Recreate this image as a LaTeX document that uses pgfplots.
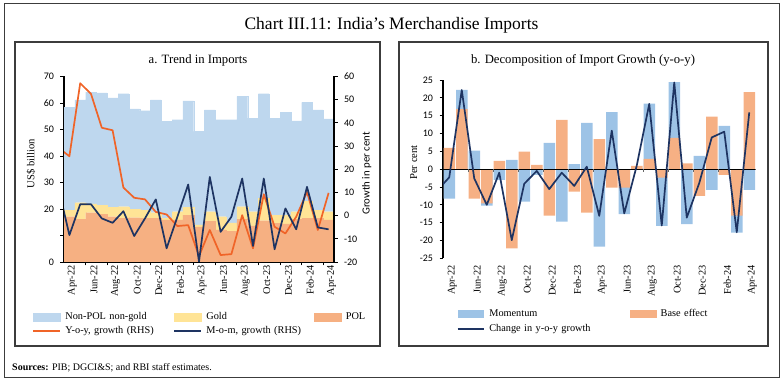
\documentclass[border=0pt]{standalone}
\usepackage{fontspec}
\setmainfont{Liberation Serif}
\newfontfamily\calfont{Carlito}
\usepackage{pgfplots}
\pgfplotsset{compat=1.18}
\definecolor{nonpol}{RGB}{190,215,238}
\definecolor{goldc}{RGB}{255,228,150}
\definecolor{polc}{RGB}{246,176,130}
\definecolor{yoyc}{RGB}{240,100,40}
\definecolor{navyc}{RGB}{30,52,98}
\definecolor{momc}{RGB}{157,195,230}
\definecolor{basec}{RGB}{246,176,132}
\definecolor{framec}{RGB}{60,60,60}
\pgfplotsset{
  common/.style={
    scale only axis, xmin=-0.5, xmax=24.5,
    /pgf/number format/assume math mode=true,
    yticklabel style={font=\calfont\fontsize{10}{12}\selectfont},
    tick align=outside, major tick length=3.5pt,
    tick style={black, line width=0.9pt},
    axis line style={black, line width=1.4pt},
  },
}
\begin{document}
\begin{tikzpicture}
\useasboundingbox (0pt,0pt) rectangle (783pt,382pt);
\draw[framec, line width=1pt] (4pt,4pt) rectangle (779pt,378pt);
\node[anchor=base, font=\fontsize{17.5}{20}\selectfont] at (391.5pt,352.7pt) {Chart III.11: India's Merchandise Imports};
\draw[framec, line width=1.2pt] (15pt,36pt) rectangle (380pt,340pt);
\draw[framec, line width=1.2pt] (399pt,36pt) rectangle (768pt,340pt);
\node[anchor=base, font=\fontsize{12.7}{15}\selectfont] at (198pt,318pt) {a. Trend in Imports};
\node[anchor=base, font=\fontsize{12.7}{15}\selectfont] at (583pt,318pt) {b. Decomposition of Import Growth (y-o-y)};
\node[anchor=base west, inner sep=0pt, font=\fontsize{10}{12}\selectfont] at (12pt,11.3pt) {\textbf{Sources:} PIB; DGCI\&S; and RBI staff estimates.};

% ---------- Panel a: bars ----------
\begin{axis}[common,
  at={(64pt,120pt)}, anchor=south west, width=270pt, height=185.5pt,
  ymin=0, ymax=70, ytick={0,10,...,70}, yticklabels={0,,20,30,40,50,60,70},
  yticklabel style={xshift=-3pt},
  axis x line*=bottom, axis y line*=left,
  ybar stacked, bar width=1,
  xtick={1.5,3.5,...,23.5}, xticklabels={},
  extra x ticks={0,2,...,24},
  extra x tick labels={Apr-22,Jun-22,Aug-22,Oct-22,Dec-22,Feb-23,Apr-23,Jun-23,Aug-23,Oct-23,Dec-23,Feb-24,Apr-24},
  extra x tick style={major tick length=0pt},
  xticklabel style={rotate=90, anchor=east, font=\fontsize{10.3}{12}\selectfont, yshift=-3pt},
  ylabel={US\$ billion},
  ylabel style={at={(axis description cs:-0.122,0.529)}, anchor=center, font=\fontsize{10.6}{12}\selectfont},
]
\addplot[fill=polc, draw=polc, line width=0.2pt] coordinates {(0,17.1)(1,16.2)(2,18.6)(3,18.1)(4,17.1)(5,16.5)(6,16.7)(7,16.5)(8,16.5)(9,15.9)(10,15.9)(11,17.7)(12,13.3)(13,15.3)(14,12.1)(15,11.5)(16,16.1)(17,13.6)(18,15.6)(19,14.6)(20,14.4)(21,16.1)(22,16.5)(23,16.5)(24,15.9)};
\addplot[fill=goldc, draw=goldc, line width=0.2pt] coordinates {(0,2.5)(1,6.2)(2,3.3)(3,3.4)(4,3.6)(5,4.4)(6,3.2)(7,3.1)(8,2.1)(9,0.6)(10,3.1)(11,3.0)(12,0.7)(13,3.7)(14,5.0)(15,3.3)(16,4.8)(17,5.4)(18,8.4)(19,3.1)(20,3.3)(21,2.9)(22,6.3)(23,2.9)(24,3.1)};
\addplot[fill=nonpol, draw=nonpol, line width=0.2pt] coordinates {(0,38.7)(1,38.8)(2,42.2)(3,42.3)(4,41.2)(5,42.6)(6,37.9)(7,37.5)(8,42.6)(9,36.5)(10,34.7)(11,40.1)(12,35.3)(13,38.4)(14,36.6)(15,38.9)(16,41.6)(17,35.3)(18,39.5)(19,36.6)(20,38.7)(21,34.3)(22,37.4)(23,38.0)(24,35.0)};
\draw[white, line width=0.9pt] (axis cs:14.5,0) -- (axis cs:14.5,53.7);
\end{axis}

% ---------- Panel a: lines (RHS) ----------
\begin{axis}[common,
  at={(64pt,120pt)}, anchor=south west, width=270pt, height=185.5pt,
  ymin=-20, ymax=60, ytick={-20,-10,...,60},
  yticklabel style={xshift=3pt},
  axis y line*=right, axis x line=none,
  ylabel={Growth in per cent},
  ylabel style={at={(axis description cs:1.121,0.478)}, anchor=center, font=\calfont\fontsize{10.8}{13}\selectfont},
  legend columns=3, legend cell align=left,
  legend style={at={(axis description cs:-0.1185,-0.2625)}, anchor=north west, draw=none, fill=none, inner sep=0pt, row sep=2.5pt,
    font=\fontsize{10.3}{12}\selectfont,
    nodes={text width=105.8pt, inner xsep=2pt, inner ysep=1.5pt, text height=7pt, text depth=2pt, align=left},
    /tikz/every odd column/.append style={column sep=2.5pt}},
]
\addlegendimage{legend image code/.code={\fill[nonpol] (0pt,-4pt) rectangle (26.7pt,4pt);}}
\addlegendentry{Non-POL non-gold}
\addlegendimage{legend image code/.code={\fill[goldc] (0pt,-4pt) rectangle (26.7pt,4pt);}}
\addlegendentry{Gold}
\addlegendimage{legend image code/.code={\fill[polc] (0pt,-4pt) rectangle (26.7pt,4pt);}}
\addlegendentry{POL}
\addplot[yoyc, line width=1.7pt, line join=round, mark=none,
  legend image code/.code={\draw[yoyc, line width=2pt] (0pt,0pt) -- (26.7pt,0pt);}]
  coordinates {(-1,29.2)(0,25.6)(1,57.1)(2,52.5)(3,37.9)(4,36.8)(5,12.1)(6,7.7)(7,7.0)(8,1.6)(9,0.5)(10,-4.5)(11,-4.1)(12,-17.5)(13,-6.2)(14,-17.0)(15,-16.6)(16,0.2)(17,-14.1)(18,9.2)(19,-4.8)(20,-7.7)(21,-0.5)(22,10.2)(23,-6.2)(24,9.8)};
\addlegendentry{Y-o-y, growth (RHS)}
\addplot[navyc, line width=1.7pt, line join=round, mark=none,
  legend image code/.code={\draw[navyc, line width=2pt] (0pt,0pt) -- (26.7pt,0pt);}]
  coordinates {(-1,11.6)(0,-8.4)(1,4.9)(2,4.9)(3,-1.2)(4,-3.1)(5,1.9)(6,-8.8)(7,-1.2)(8,7.0)(9,-14.1)(10,-0.5)(11,13.4)(12,-19.9)(13,16.7)(14,-7.0)(15,-0.5)(16,16.0)(17,-13.1)(18,16.0)(19,-14.5)(20,3.1)(21,-5.9)(22,12.4)(23,-5.1)(24,-5.9)};
\addlegendentry{M-o-m, growth (RHS)}
\end{axis}

% ---------- Panel b ----------
\begin{axis}[common,
  at={(443pt,123.7pt)}, anchor=south west, width=312.5pt, height=178.3pt,
  ymin=-25, ymax=25, ytick={-25,-20,...,25},
  yticklabel style={xshift=-3pt},
  axis y line*=left, axis x line*=bottom, x axis line style={draw=none},
  xtick={0,2,...,24},
  xticklabels={Apr-22,Jun-22,Aug-22,Oct-22,Dec-22,Feb-23,Apr-23,Jun-23,Aug-23,Oct-23,Dec-23,Feb-24,Apr-24},
  xtick style={draw=none},
  xticklabel style={rotate=90, anchor=east, font=\fontsize{10.3}{12}\selectfont, yshift=-3pt},
  ylabel={Per cent},
  ylabel style={at={(axis description cs:-0.094,0.537)}, anchor=center, font=\fontsize{10.6}{12}\selectfont},
  ybar, bar width=0.92,
  legend columns=2, legend cell align=left,
  legend style={at={(axis description cs:0.043,-0.2804)}, anchor=north west, draw=none, fill=none, inner sep=0pt, row sep=2.5pt,
    font=\fontsize{10.3}{12}\selectfont,
    nodes={text width=138.7pt, inner xsep=2pt, inner ysep=1.5pt, text height=7pt, text depth=2pt, align=left},
    /tikz/every odd column/.append style={column sep=2pt}},
]
\addplot[fill=momc, draw=none, bar shift=0pt,
  legend image code/.code={\fill[momc] (0pt,-4pt) rectangle (26.7pt,4pt);}]
  coordinates {(0,-8.3)(1,22.2)(2,5.2)(3,-10.2)(4,-3.0)(5,2.6)(6,-9.1)(7,-1.6)(8,7.4)(9,-14.7)(10,1.4)(11,13.0)(12,-21.7)(13,16.0)(14,-12.6)(15,0.3)(16,18.4)(17,-15.9)(18,24.4)(19,-15.4)(20,3.7)(21,-5.8)(22,12.1)(23,-17.8)(24,-5.8)};
\addlegendentry{Momentum}
\addplot[fill=basec, draw=none, bar shift=0pt,
  legend image code/.code={\fill[basec] (0pt,-4pt) rectangle (26.7pt,4pt);}]
  coordinates {(0,6.0)(1,16.8)(2,-8.3)(3,-9.6)(4,2.3)(5,-22.2)(6,4.9)(7,1.2)(8,-13.0)(9,13.8)(10,-6.3)(11,-12.2)(12,8.4)(13,-5.2)(14,-5.2)(15,0.9)(16,2.9)(17,-2.4)(18,8.8)(19,1.6)(20,-7.5)(21,14.7)(22,-1.6)(23,-13.0)(24,21.6)};
\addlegendentry{Base effect}
\draw[black, line width=1pt] (axis cs:-0.5,0) -- (axis cs:24.5,0);
\pgfplotsinvokeforeach{1.5,3.5,...,23.5}{\draw[black!60, line width=0.6pt] (axis cs:#1,0) -- ([yshift=-2.5pt]axis cs:#1,0);}
\addplot[sharp plot, navyc, line width=1.7pt, line join=round, mark=none,
  legend image code/.code={\draw[navyc, line width=2pt] (0pt,0pt) -- (26.7pt,0pt);}]
  coordinates {(-1,-6.1)(0,-2.3)(1,22.2)(2,-2.6)(3,-10.0)(4,-1.0)(5,-19.9)(6,-4.1)(7,-0.5)(8,-5.6)(9,-1.0)(10,-4.7)(11,0.7)(12,-13.1)(13,10.8)(14,-12.4)(15,1.0)(16,18.3)(17,-15.8)(18,24.3)(19,-13.6)(20,-3.9)(21,8.9)(22,10.5)(23,-17.7)(24,15.9)};
\addlegendentry{Change in y-o-y growth}
\end{axis}
\end{tikzpicture}
\end{document}
